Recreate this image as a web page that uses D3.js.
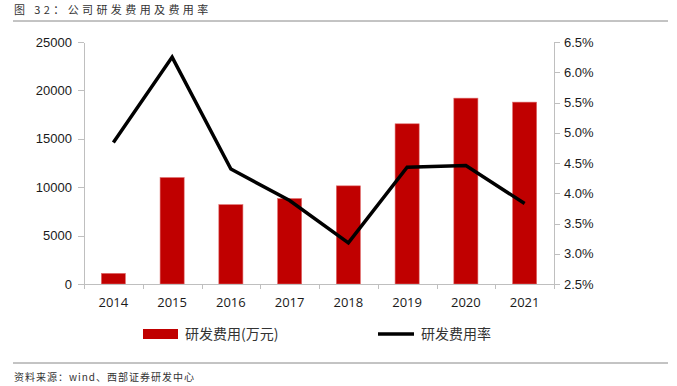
<!DOCTYPE html>
<html>
<head>
<meta charset="utf-8">
<script src="https://cdn.jsdelivr.net/npm/d3@7"></script>
<style>
  body { margin: 0; background: #fff; }
  svg { font-family: "Open Sans", "Noto Sans CJK SC", sans-serif; }
  .axis path, .axis line { stroke: #bfbfbf; shape-rendering: crispEdges; }
  .axis text { fill: #1a1a1a; font-size: 13px; }
</style>
</head>
<body>
<div id="chart"></div>
<script>
// chart data
var years = ["2014", "2015", "2016", "2017", "2018", "2019", "2020", "2021"];
var rdCost = [1100, 11000, 8200, 8830, 10140, 16550, 19200, 18790];
var rdRate = [0.0484, 0.0625, 0.0440, 0.0388, 0.0318, 0.0443, 0.0446, 0.0383];
var leftTicks = [0, 5000, 10000, 15000, 20000, 25000];
var rightTicks = [0.025, 0.03, 0.035, 0.04, 0.045, 0.05, 0.055, 0.06, 0.065];

var width = 677, height = 386;
var m = { top: 42, right: 123, bottom: 102, left: 84 };
var w = width - m.left - m.right, h = height - m.top - m.bottom;

var svg = d3.select("#chart").append("svg")
  .attr("width", width)
  .attr("height", height);

// title + rules
svg.append("text")
  .attr("x", 14).attr("y", 14)
  .attr("font-family", "'Noto Sans CJK SC', sans-serif")
  .attr("font-size", 11).attr("fill", "#333")
  .attr("letter-spacing", 3.4)
  .text("图 32：公司研发费用及费用率");
svg.append("line").attr("x1", 13).attr("x2", 668).attr("y1", 21).attr("y2", 21)
  .attr("stroke", "#888").attr("stroke-width", 1);
svg.append("line").attr("x1", 13).attr("x2", 668).attr("y1", 363).attr("y2", 363)
  .attr("stroke", "#888").attr("stroke-width", 1);
svg.append("text")
  .attr("x", 14).attr("y", 381)
  .attr("font-family", "'Noto Sans CJK SC', sans-serif")
  .attr("font-size", 10).attr("fill", "#333")
  .attr("letter-spacing", 1)
  .text("资料来源：wind、西部证券研发中心");

var g = svg.append("g").attr("transform", "translate(" + m.left + "," + m.top + ")");

var x = d3.scaleBand().domain(years).range([0, w]).paddingInner(0.59).paddingOuter(0.295);
var xb = d3.scaleLinear().domain([0, years.length]).range([0, w]);
var yL = d3.scaleLinear().domain([0, 25000]).range([h, 0]);
var yR = d3.scaleLinear().domain([0.025, 0.065]).range([h, 0]);

// bars
g.selectAll("rect.bar").data(rdCost).enter().append("rect")
  .attr("class", "bar")
  .attr("x", function(d, i) { return x(years[i]); })
  .attr("y", function(d) { return yL(d); })
  .attr("width", x.bandwidth())
  .attr("height", function(d) { return h - yL(d); })
  .attr("fill", "#c00000")
  .attr("stroke", "#e07070").attr("stroke-width", 0.6);

// axes
g.append("g").attr("class", "axis")
  .call(d3.axisLeft(yL).tickValues(leftTicks).tickSize(6).tickSizeOuter(0)
    .tickPadding(6).tickFormat(d3.format("d")));

g.append("g").attr("class", "axis")
  .attr("transform", "translate(" + w + ",0)")
  .call(d3.axisRight(yR).tickValues(rightTicks).tickSize(6).tickSizeOuter(0)
    .tickPadding(4).tickFormat(d3.format(".1%")));

g.append("g").attr("class", "axis")
  .attr("transform", "translate(0," + h + ")")
  .call(d3.axisBottom(xb).tickValues(d3.range(0, years.length + 1)).tickSize(5).tickFormat(""));

g.append("g").selectAll("text").data(years).enter().append("text")
  .attr("x", function(d) { return x(d) + x.bandwidth() / 2; })
  .attr("y", h + 23)
  .attr("text-anchor", "middle")
  .attr("font-size", 13).attr("fill", "#1a1a1a")
  .text(function(d) { return d; });

// rate line
var line = d3.line()
  .x(function(d, i) { return x(years[i]) + x.bandwidth() / 2; })
  .y(function(d) { return yR(d); });
g.append("path").datum(rdRate)
  .attr("d", line)
  .attr("fill", "none")
  .attr("stroke", "#000")
  .attr("stroke-width", 3.5)
  .attr("stroke-linejoin", "miter");

// legend
var lg = svg.append("g").attr("font-size", 14).attr("fill", "#333")
  .attr("font-family", "'Noto Sans CJK SC', sans-serif");
lg.append("rect").attr("x", 143).attr("y", 329).attr("width", 35).attr("height", 10)
  .attr("fill", "#c00000");
lg.append("text").attr("x", 185).attr("y", 339).text("研发费用(万元)");
lg.append("line").attr("x1", 378).attr("x2", 414).attr("y1", 334).attr("y2", 334)
  .attr("stroke", "#000").attr("stroke-width", 3.5);
lg.append("text").attr("x", 421).attr("y", 339).text("研发费用率");
</script>
</body>
</html>
